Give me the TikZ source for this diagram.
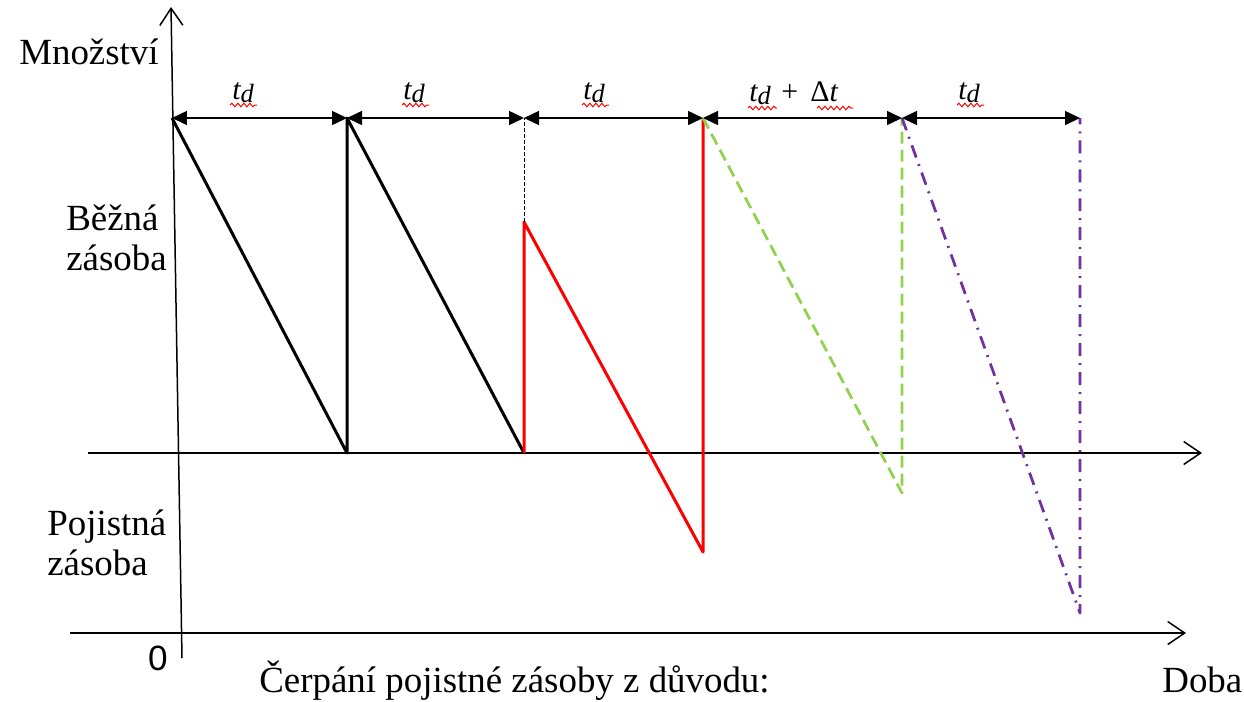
\documentclass[tikz,border=0pt]{standalone}
\usepackage{fontspec}
\setmainfont{Liberation Serif}
\newfontfamily\sansf{Liberation Sans}
\usetikzlibrary{arrows.meta,decorations.pathmorphing}
\definecolor{grn}{HTML}{92D050}
\definecolor{prp}{HTML}{7030A0}
\newcommand{\tdlab}{{\fontsize{17}{17}\selectfont\itshape t\raisebox{-2pt}{\fontsize{15}{15}\selectfont d}}}
\begin{document}
\begin{tikzpicture}[x=0.02cm,y=-0.02cm,
  axis/.style={line width=0.03cm,-{Straight Barb[length=0.34cm,width=0.46cm]}},
  saw/.style={line width=0.06cm,line join=round},
  dim/.style={line width=0.03cm,{Triangle[length=0.3cm,width=0.28cm]}-{Triangle[length=0.3cm,width=0.28cm]}},
  wavy/.style={red,line width=0.02cm,decorate,decoration={snake,amplitude=0.035cm,segment length=0.12cm}},
  lab/.style={font=\fontsize{21}{22.7}\selectfont,inner sep=0pt},
  tdl/.style={inner sep=0pt,anchor=base west}]
\useasboundingbox (0,0) rectangle (1244,701);
% axes
\coordinate (ya) at (182,658);
\coordinate (yb) at (171,7);
\coordinate (ha) at (88,453);
\coordinate (hb) at (1202,453);
\coordinate (la) at (70,633);
\coordinate (lb) at (1186,633);
\draw[axis] (ya) -- (yb);
\draw[axis] (ha) -- (hb);
\draw[axis] (la) -- (lb);
% saw points
\coordinate (A0) at (172,118);
\coordinate (B1) at (347,453);
\coordinate (T1) at (347,118);
\coordinate (B2) at (524,453);
\coordinate (M2) at (524,222);
\coordinate (T2) at (524,118);
\coordinate (B3) at (703,552);
\coordinate (T3) at (703,118);
\coordinate (B4) at (902,493);
\coordinate (T4) at (902,118);
\coordinate (B5) at (1080,613);
\coordinate (T5) at (1080,118);
\draw[saw] (A0) -- (B1) -- (T1) -- (B2);
\draw[saw,red] (B2) -- (M2) -- (B3) -- (T3);
\draw[line width=0.02cm,dash pattern=on 0.08cm off 0.04cm] (M2) -- (T2);
\draw[saw,grn,line width=0.055cm,dash pattern=on 0.24cm off 0.12cm] (T3) -- (B4) -- (T4);
\draw[saw,prp,line width=0.055cm,dash pattern=on 0.26cm off 0.14cm on 0.04cm off 0.14cm] (T4) -- (B5) -- (T5);
% dimension arrows
\draw[dim] (A0) -- (T1);
\draw[dim] (T1) -- (T2);
\draw[dim] (T2) -- (T3);
\draw[dim] (T3) -- (T4);
\draw[dim] (T4) -- (T5);
% dimension labels
\node[tdl] (d1) at (232,99) {\tdlab};
\node[tdl] (d2) at (403,99) {\tdlab};
\node[tdl] (d3) at (583,99) {\tdlab};
\node[tdl] (d4) at (749,101) {\tdlab\hspace{6pt}{\fontsize{17}{17}\selectfont +\hspace{7pt}Δ\textit{t}}};
\node[tdl] (d5) at (958,99) {\tdlab};
\draw[wavy] (230,105) -- (257,105);
\draw[wavy] (402,105) -- (429,105);
\draw[wavy] (582,105) -- (609,105);
\draw[wavy] (748,108) -- (777,108);
\draw[wavy] (817,108) -- (853,108);
\draw[wavy] (957,105) -- (984,105);
% text labels
\node[lab,anchor=base east] (mn) at (159,64) {Množství};
\node[lab,anchor=base west,align=left] (bz) at (66,270) {Běžná\\zásoba};
\node[lab,anchor=base west,align=left] (pz) at (47,575) {Pojistná\\zásoba};
\node[lab,anchor=base,font=\sansf\fontsize{20}{24}\selectfont] (zero) at (158,670) {0};
\node[lab,anchor=base west] (cp) at (259,692) {Čerpání pojistné zásoby z důvodu:};
\node[lab,anchor=base west] (doba) at (1162,692) {Doba};
\end{tikzpicture}
\end{document}
